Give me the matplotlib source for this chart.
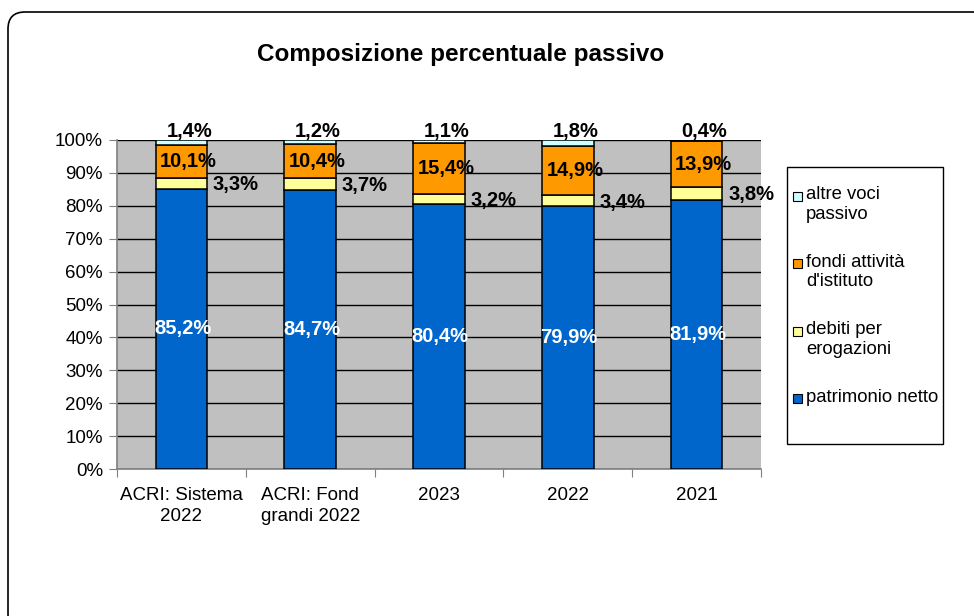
import matplotlib
matplotlib.use('Agg')
import matplotlib.pyplot as plt
from matplotlib.patches import FancyBboxPatch, Rectangle
from matplotlib.transforms import Affine2D
import numpy as np

plt.rcParams['font.family'] = ['Liberation Sans', 'DejaVu Sans']

categories = ['ACRI: Sistema\n2022', 'ACRI: Fond\ngrandi 2022', '2023', '2022', '2021']
patrimonio = [85.2, 84.7, 80.4, 79.9, 81.9]
debiti = [3.3, 3.7, 3.2, 3.4, 3.8]
fondi = [10.1, 10.4, 15.4, 14.9, 13.9]
altre = [1.4, 1.2, 1.1, 1.8, 0.4]

series_names = ['patrimonio netto', 'debiti per\nerogazioni', "fondi attività\nd'istituto", 'altre voci\npassivo']
colors = ['#0066CC', '#FFFF99', '#FF9900', '#CCFFFF']

W, H = 974, 616
fig = plt.figure(figsize=(W / 100, H / 100), dpi=100)
px = Affine2D().scale(1 / 100) + fig.dpi_scale_trans  # pixel coords, origin bottom-left

# rounded outer frame (runs off the right and bottom edges)
frame = FancyBboxPatch((8, -15), 981, 619, boxstyle='round,pad=0,rounding_size=17',
                       transform=px, facecolor='white', edgecolor='black', linewidth=1.2, zorder=0)
fig.add_artist(frame)

ax = fig.add_axes([117 / W, (H - 469) / H, 644 / W, 329 / H])
ax.set_facecolor('#C0C0C0')

x = np.arange(len(categories))
bw = 0.40
data = [patrimonio, debiti, fondi, altre]
bottom = np.zeros(len(categories))
for vals, c in zip(data, colors):
    ax.bar(x, vals, bw, bottom=bottom, color=c, edgecolor='black', linewidth=1.1, zorder=3)
    bottom = bottom + np.array(vals)

fmt = lambda v: f'{v:.1f}%'.replace('.', ',')
lbl = dict(fontsize=14.5, fontweight='bold', zorder=5)
for i in range(len(categories)):
    p, d, f, a = patrimonio[i], debiti[i], fondi[i], altre[i]
    ax.text(x[i] + 0.01, p / 2, fmt(p), ha='center', va='center', color='white', **lbl)
    ax.text(x[i] + bw / 2 + 0.045, p + d / 2 - 0.5, fmt(d), ha='left', va='center', **lbl)
    ax.text(x[i] + 0.055, p + d + f / 2, fmt(f), ha='center', va='center', **lbl)
    ax.text(x[i] + 0.06, 102.7, fmt(a), ha='center', va='center', clip_on=False, **lbl)

ax.set_xlim(-0.5, len(categories) - 0.5)
ax.set_ylim(0, 100)
ax.set_yticks(np.arange(0, 101, 10))
ax.set_yticklabels([f'{v}%' for v in range(0, 101, 10)], fontsize=13.5)
ax.yaxis.grid(True, color='black', linewidth=1.0, zorder=1)
ax.set_axisbelow(True)

ax.set_xticks(np.arange(-0.5, len(categories), 1))
ax.set_xticklabels([])
ax.set_xticks(x, minor=True)
ax.set_xticklabels(categories, minor=True, fontsize=13.5, linespacing=1.28)
ax.tick_params(axis='x', which='minor', length=0, pad=13)
ax.tick_params(axis='x', which='major', length=6, color='#808080')
ax.tick_params(axis='y', length=6, color='#808080', pad=4)

for s in ['top', 'right']:
    ax.spines[s].set_visible(False)
for s in ['left', 'bottom']:
    ax.spines[s].set_color('#808080')
    ax.spines[s].set_linewidth(1.2)

fig.text(461 / W, (H - 54) / H, 'Composizione percentuale passivo', ha='center', va='center',
         fontsize=17.5, fontweight='bold')

# legend box
fig.add_artist(Rectangle((787, H - 444), 156, 277, transform=px, facecolor='white',
                         edgecolor='black', linewidth=1.0))
for k, idx in enumerate([3, 2, 1, 0]):
    yc = 196 + 67.6 * k
    fig.add_artist(Rectangle((793, H - yc - 4.5), 9, 9, transform=px,
                             facecolor=colors[idx], edgecolor='black', linewidth=0.8))
    fig.text(806 / W, (H - yc + 10) / H, series_names[idx], ha='left', va='top',
             fontsize=13.3, linespacing=1.2)

fig.savefig('out.png', dpi=100)
